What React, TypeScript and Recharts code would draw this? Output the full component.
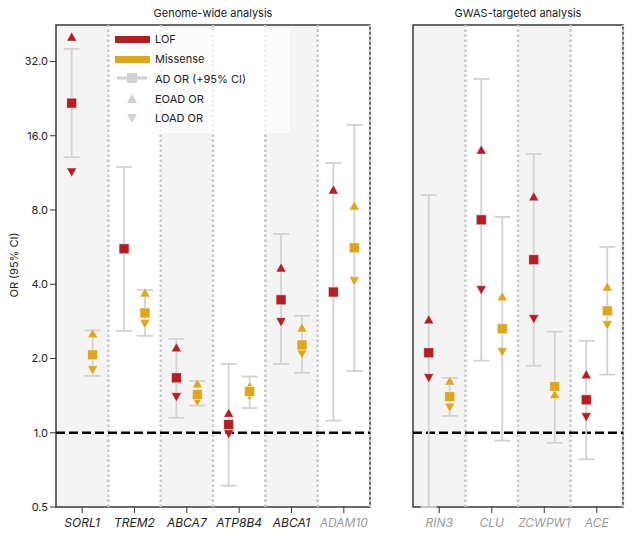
import React from 'react';
import {
  ScatterChart, Scatter, XAxis, YAxis, ReferenceArea, ReferenceLine, ErrorBar,
} from 'recharts';

// ---- Data ----
const leftGenes = ['SORL1', 'TREM2', 'ABCA7', 'ATP8B4', 'ABCA1', 'ADAM10'];
const leftGeneMuted = [false, false, false, false, false, true];
const leftLofOR = [21.7, 5.57, 1.67, 1.08, 3.46, 3.72];
const leftLofLo = [13.1, 2.59, 1.15, 0.61, 1.9, 1.12];
const leftLofHi = [36, 11.96, 2.4, 1.9, 6.4, 12.4];
const leftLofEOAD: (number | null)[] = [40.2, null, 2.21, 1.2, 4.66, 9.65];
const leftLofLOAD: (number | null)[] = [11.4, null, 1.4, 0.99, 2.82, null];
const leftMisOR = [2.07, 3.06, 1.43, 1.47, 2.27, 5.62];
const leftMisLo = [1.7, 2.47, 1.29, 1.26, 1.75, 1.78];
const leftMisHi = [2.6, 3.79, 1.62, 1.69, 2.98, 17.7];
const leftMisEOAD: (number | null)[] = [2.52, 3.69, 1.58, 1.54, 2.66, 8.3];
const leftMisLOAD: (number | null)[] = [1.8, 2.77, 1.34, 1.41, 2.09, 4.13];

const rightGenes = ['RIN3', 'CLU', 'ZCWPW1', 'ACE'];
const rightGeneMuted = [true, true, true, true];
const rightLofOR = [2.11, 7.3, 5.03, 1.36];
const rightLofLo = [0.5, 1.96, 1.87, 0.78];
const rightLofHi = [9.2, 27.2, 13.5, 2.36];
const rightLofEOAD: (number | null)[] = [2.87, 14.0, 9.05, 1.72];
const rightLofLOAD: (number | null)[] = [1.67, 3.8, 2.9, 1.16];
const rightMisOR = [1.4, 2.64, 1.54, 3.12];
const rightMisLo = [1.17, 0.93, 0.91, 1.72];
const rightMisHi = [1.67, 7.5, 2.57, 5.67];
const rightMisEOAD: (number | null)[] = [1.62, 3.56, 1.43, 3.9];
const rightMisLOAD: (number | null)[] = [1.27, 2.13, null, 2.74];

const yTicks = [0.5, 1, 2, 4, 8, 16, 32];
const Y_DOMAIN: [number, number] = [0.5, 45];

const LOF_COLOR = '#b41f24';
const MIS_COLOR = '#dfa51f';
const CI_COLOR = '#d2d2d2';
const FONT = 'Inter, "Noto Sans", sans-serif';

// ---- helpers ----
const ciData = (or: number[], lo: number[], hi: number[], off: number) =>
  or.map((v, i) => ({ x: i + off, y: v, err: [v - lo[i], hi[i] - v] }));
const ptData = (vals: (number | null)[], off: number) =>
  vals.map((v, i) => (v == null ? null : { x: i + off, y: v })).filter(Boolean) as { x: number; y: number }[];

const Square = (color: string) => (p: any) => (
  <rect x={p.cx - 5} y={p.cy - 5} width={10} height={10} fill={color} stroke="rgba(255,255,255,0.7)" strokeWidth={0.8} />
);
const Up = (color: string) => (p: any) => (
  <polygon points={`${p.cx},${p.cy - 5} ${p.cx - 5},${p.cy + 4} ${p.cx + 5},${p.cy + 4}`} fill={color} stroke="rgba(255,255,255,0.7)" strokeWidth={0.6} />
);
const Down = (color: string) => (p: any) => (
  <polygon points={`${p.cx - 5},${p.cy - 4} ${p.cx + 5},${p.cy - 4} ${p.cx},${p.cy + 5}`} fill={color} stroke="rgba(255,255,255,0.7)" strokeWidth={0.6} />
);
const Empty = () => <g />;

const makeTick = (genes: string[], muted: boolean[]) => (props: any) => {
  const { x, y, payload } = props;
  const idx = Math.floor(payload.value);
  return (
    <text x={x} y={y + 12} textAnchor="middle" fontStyle="italic" fontSize={12} fontFamily={FONT}
      fill={muted[idx] ? '#9a9a9a' : '#222'}>
      {genes[idx]}
    </text>
  );
};

type PanelProps = {
  genes: string[]; muted: boolean[];
  lofOR: number[]; lofLo: number[]; lofHi: number[]; lofE: (number | null)[]; lofL: (number | null)[];
  misOR: number[]; misLo: number[]; misHi: number[]; misE: (number | null)[]; misL: (number | null)[];
  width: number; margin: any; showY: boolean;
};

const Panel = (p: PanelProps) => {
  const n = p.genes.length;
  const offL = 0.3, offM = 0.7;
  const cols = Array.from({ length: n }, (_, i) => i);
  return (
    <ScatterChart width={p.width} height={530} margin={p.margin}>
      <XAxis type="number" dataKey="x" domain={[0, n]} allowDataOverflow
        ticks={cols.map((i) => i + 0.5)} tick={makeTick(p.genes, p.muted)}
        tickLine={{ stroke: '#333' }} tickSize={6} axisLine={false} height={31} interval={0} />
      <YAxis type="number" dataKey="y" scale="log" domain={Y_DOMAIN} allowDataOverflow
        ticks={yTicks} tickFormatter={(v: number) => v.toFixed(1)} hide={!p.showY} width={48}
        tick={{ fontSize: 11, fill: '#222', fontFamily: FONT }} tickLine={{ stroke: '#333' }} tickSize={6} axisLine={false} />
      {cols.filter((i) => i % 2 === 0).map((i) => (
        <ReferenceArea key={'ra' + i} x1={i} x2={i + 1} y1={Y_DOMAIN[0]} y2={Y_DOMAIN[1]} fill="#f4f4f4" fillOpacity={1} stroke="none" />
      ))}
      {cols.slice(1).concat([n]).map((i) => (
        <ReferenceLine key={'rl' + i} x={i} stroke="#c9c9c9" strokeWidth={2.5} strokeDasharray="2.5 2.5" />
      ))}
      <ReferenceLine y={1} stroke="#000" strokeWidth={2.5} strokeDasharray="9 4" />
      <Scatter data={ciData(p.lofOR, p.lofLo, p.lofHi, offL)} shape={Empty} isAnimationActive={false}>
        <ErrorBar dataKey="err" direction="y" width={8} stroke={CI_COLOR} strokeWidth={1.8} />
      </Scatter>
      <Scatter data={ciData(p.misOR, p.misLo, p.misHi, offM)} shape={Empty} isAnimationActive={false}>
        <ErrorBar dataKey="err" direction="y" width={8} stroke={CI_COLOR} strokeWidth={1.8} />
      </Scatter>
      <Scatter data={ptData(p.lofE, offL)} shape={Up(LOF_COLOR)} isAnimationActive={false} />
      <Scatter data={ptData(p.lofL, offL)} shape={Down(LOF_COLOR)} isAnimationActive={false} />
      <Scatter data={ptData(p.misE, offM)} shape={Up(MIS_COLOR)} isAnimationActive={false} />
      <Scatter data={ptData(p.misL, offM)} shape={Down(MIS_COLOR)} isAnimationActive={false} />
      <Scatter data={ptData(p.lofOR, offL)} shape={Square(LOF_COLOR)} isAnimationActive={false} />
      <Scatter data={ptData(p.misOR, offM)} shape={Square(MIS_COLOR)} isAnimationActive={false} />
      <ReferenceArea x1={0} x2={n} y1={Y_DOMAIN[0]} y2={Y_DOMAIN[1]} fill="none" stroke="#3a3a3a" strokeWidth={1.5} />
    </ScatterChart>
  );
};

const legendRow: React.CSSProperties = { position: 'absolute', left: 147, fontSize: 11, color: '#222', lineHeight: '14px' };

export default function App() {
  return (
    <div style={{ position: 'relative', width: 624, height: 530, fontFamily: FONT }}>
      <div style={{ position: 'absolute', left: 0, top: 0 }}>
        <Panel genes={leftGenes} muted={leftGeneMuted}
          lofOR={leftLofOR} lofLo={leftLofLo} lofHi={leftLofHi} lofE={leftLofEOAD} lofL={leftLofLOAD}
          misOR={leftMisOR} misLo={leftMisLo} misHi={leftMisHi} misE={leftMisEOAD} misL={leftMisLOAD}
          width={372} margin={{ top: 17, right: 10, bottom: 0, left: 0 }} showY={true} />
      </div>
      <div style={{ position: 'absolute', left: 372, top: 0 }}>
        <Panel genes={rightGenes} muted={rightGeneMuted}
          lofOR={rightLofOR} lofLo={rightLofLo} lofHi={rightLofHi} lofE={rightLofEOAD} lofL={rightLofLOAD}
          misOR={rightMisOR} misLo={rightMisLo} misHi={rightMisHi} misE={rightMisEOAD} misL={rightMisLOAD}
          width={252} margin={{ top: 17, right: 9, bottom: 0, left: 33 }} showY={false} />
      </div>
      {/* titles */}
      <div style={{ position: 'absolute', left: 48, width: 314, top: -2, textAlign: 'center', fontSize: 11, color: '#222' }}>Genome-wide analysis</div>
      <div style={{ position: 'absolute', left: 405, width: 210, top: -2, textAlign: 'center', fontSize: 11, color: '#222' }}>GWAS-targeted analysis</div>
      {/* y label */}
      <div style={{ position: 'absolute', left: 6, top: 257, width: 0, height: 0 }}>
        <div style={{ position: 'absolute', transform: 'translate(-50%, -50%) rotate(-90deg)', whiteSpace: 'nowrap', fontSize: 11, color: '#222' }}>OR (95% CI)</div>
      </div>
      {/* legend */}
      <div style={{ position: 'absolute', left: 102, top: 20, width: 180, height: 105, background: 'rgba(255,255,255,0.72)' }} />
      <svg style={{ position: 'absolute', left: 0, top: 0 }} width={300} height={130}>
        <rect x={107} y={28} width={35} height={7} fill={LOF_COLOR} />
        <rect x={107} y={48} width={35} height={7} fill={MIS_COLOR} />
        <line x1={109} x2={139} y1={70} y2={70} stroke={CI_COLOR} strokeWidth={3} />
        <rect x={119} y={65} width={10} height={10} fill={CI_COLOR} />
        <polygon points="124,86 119,95 129,95" fill={CI_COLOR} />
        <polygon points="119,106 129,106 124,115" fill={CI_COLOR} />
      </svg>
      <div style={{ ...legendRow, top: 24 }}>LOF</div>
      <div style={{ ...legendRow, top: 44 }}>Missense</div>
      <div style={{ ...legendRow, top: 64 }}>AD OR (+95% CI)</div>
      <div style={{ ...legendRow, top: 84 }}>EOAD OR</div>
      <div style={{ ...legendRow, top: 103 }}>LOAD OR</div>
    </div>
  );
}
